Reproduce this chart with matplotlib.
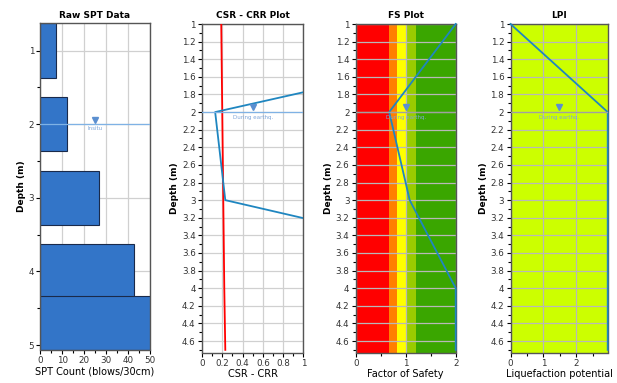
import numpy as np
import matplotlib.pyplot as plt
from matplotlib.ticker import MultipleLocator, FormatStrFormatter

# data
spt_depth = [1.0, 2.0, 3.0, 4.0, 4.7]
spt_count = [7, 12, 27, 43, 52]

depth = [1.0, 2.0, 3.0, 4.0, 4.7]
csr = [0.19, 0.20, 0.21, 0.22, 0.23]
crr = [4.0, 0.13, 0.23, 4.0, 4.0]
fs = [2.0, 0.67, 1.08, 2.0, 2.0]
lpi = [0.0, 2.95, 2.95, 2.95, 2.95]

fs_bands = [0, 0.67, 0.82, 1.0, 1.2, 2.0]
fs_colors = ['#ff0000', '#ff7f00', '#ffff00', '#99cc00', '#3aa600']

water_depth = 2.0

plt.rcParams['font.family'] = 'DejaVu Sans'
plt.rcParams['font.size'] = 6.5

W, H = 617, 383
fig = plt.figure(figsize=(W / 100, H / 100), dpi=100)


def px_axes(l, r, t, b):
    return fig.add_axes([l / W, 1 - b / H, (r - l) / W, (b - t) / H])


ax1 = px_axes(40.3, 149.7, 23.3, 349.5)
ax2 = px_axes(202, 303.3, 24, 352.5)
ax3 = px_axes(355.7, 455.7, 24, 352.5)
ax4 = px_axes(510.5, 607.7, 24, 352.5)

line_blue = '#1f86c0'
grid_col = '#d0d0d0'


def style(ax, title, xlabel):
    ax.set_title(title, fontweight='bold', fontsize=6.5, pad=4)
    ax.set_xlabel(xlabel, fontsize=7, labelpad=1)
    ax.set_ylabel('Depth (m)', fontsize=6.5, fontweight='bold', labelpad=2)
    ax.tick_params(which='major', length=3, width=0.8, pad=1.5, labelsize=6.3,
                   labelcolor='#333333')
    ax.tick_params(which='minor', length=2, width=0.8)
    ax.xaxis.set_major_formatter(FormatStrFormatter('%g'))
    for s in ax.spines.values():
        s.set_color('#555555')
        s.set_linewidth(1)
    ax.set_axisbelow(True)


def water(ax, xmid, label, color='#7fb2e5'):
    ax.axhline(water_depth, color=color, lw=0.9, zorder=3)
    ax.plot([xmid], [water_depth - 0.06], marker='v', color='#5b8fd0',
            markersize=5, zorder=4)
    ax.text(xmid, water_depth + 0.03, label, color='#7fa6d8', fontsize=4,
            ha='center', va='top', zorder=4)


# Raw SPT
ax1.barh(spt_depth, spt_count, height=0.74, color='#3375c8',
         edgecolor='#1a2a4a', linewidth=0.8, zorder=2)
ax1.set_xlim(0, 50)
ax1.set_ylim(5.06, 0.63)
ax1.xaxis.set_major_locator(MultipleLocator(10))
ax1.xaxis.set_minor_locator(MultipleLocator(5))
ax1.yaxis.set_major_locator(MultipleLocator(1))
ax1.yaxis.set_minor_locator(MultipleLocator(0.5))
ax1.grid(True, which='major', color=grid_col, lw=0.9)
water(ax1, 25, 'Insitu')
style(ax1, 'Raw SPT Data', 'SPT Count (blows/30cm)')

# CSR - CRR
ax2.plot(csr, depth, color='#ff0000', lw=1.3, zorder=3)
ax2.plot(crr, depth, color=line_blue, lw=1.3, zorder=3)
ax2.set_xlim(0, 1)
ax2.xaxis.set_major_locator(MultipleLocator(0.2))
ax2.xaxis.set_minor_locator(MultipleLocator(0.1))
ax2.grid(True, which='major', color=grid_col, lw=0.9)
water(ax2, 0.5, 'During earthq.')
style(ax2, 'CSR - CRR Plot', 'CSR - CRR')

# FS
for i in range(len(fs_colors)):
    ax3.axvspan(fs_bands[i], fs_bands[i + 1], color=fs_colors[i], lw=0, zorder=0)
ax3.plot(fs, depth, color=line_blue, lw=1.3, zorder=3, clip_on=False)
ax3.set_xlim(0, 2)
ax3.xaxis.set_major_locator(MultipleLocator(1))
ax3.xaxis.set_minor_locator(MultipleLocator(0.5))
ax3.grid(True, which='major', color='#b8b8b8', lw=0.9, zorder=1)
water(ax3, 1.0, 'During earthq.', color='#a0a0a0')
style(ax3, 'FS Plot', 'Factor of Safety')

# LPI
ax4.set_facecolor('#ccff00')
ax4.plot(lpi, depth, color=line_blue, lw=1.3, zorder=3, clip_on=False)
ax4.set_xlim(0, max(lpi))
ax4.xaxis.set_major_locator(MultipleLocator(1))
ax4.xaxis.set_minor_locator(MultipleLocator(0.5))
ax4.grid(True, which='major', color='#b8b8b8', lw=0.9)
water(ax4, max(lpi) / 2, 'During earthq.', color='#a0a0a0')
style(ax4, 'LPI', 'Liquefaction potential')

for ax in (ax2, ax3, ax4):
    ax.set_ylim(4.73, 1.0)
    ax.yaxis.set_minor_locator(MultipleLocator(0.1))
    ax.set_yticks(np.arange(1.0, 4.61, 0.2))
    ax.set_yticklabels(['%g' % round(v, 1) for v in np.arange(1.0, 4.61, 0.2)])

fig.savefig('out.png', dpi=100)
